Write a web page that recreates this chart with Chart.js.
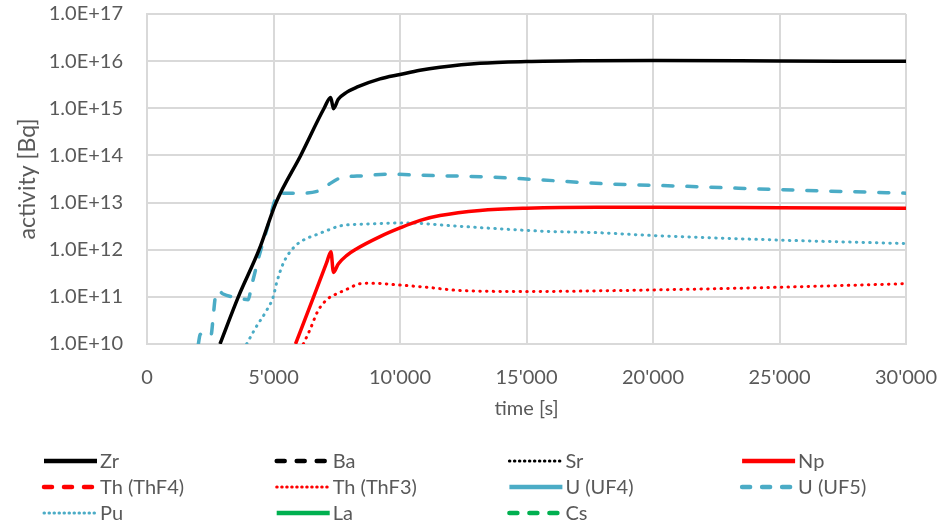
<!DOCTYPE html>
<html>
<head>
<meta charset="utf-8">
<script src="https://cdn.jsdelivr.net/npm/chart.js@4.4.1/dist/chart.umd.min.js"></script>
<style>
  html, body { margin: 0; padding: 0; background: #fff; }
  #wrap { width: 945px; height: 522px; position: relative; }
</style>
</head>
<body>
<div id="wrap"><canvas id="chart"></canvas></div>
<script>
// activity [Bq] vs time [s], one time/value pair of arrays per nuclide
const zrTime = [2885, 3610, 4430, 5100, 6075, 7000, 7260, 7370, 7560, 7900, 8290, 9210, 10000, 10790, 11580, 13160, 15000, 17500, 20000, 25000, 30000];
const zrActivity = [1e10, 1e11, 1e12, 1e13, 1e14, 1e15, 1.7e15, 9.8e14, 1.55e15, 2.2e15, 2.8e15, 4.2e15, 5.2e15, 6.4e15, 7.4e15, 9.0e15, 9.8e15, 1.02e16, 1.03e16, 1.01e16, 9.9e15];

const baTime = [];
const baActivity = [];
const srTime = [];
const srActivity = [];

const npTime = [5870, 6570, 7100, 7270, 7370, 7560, 7900, 8290, 9210, 10000, 10800, 11580, 13160, 15000, 17780, 20000, 25000, 30000];
const npActivity = [1e10, 9.5e10, 5.3e11, 9.1e11, 3.3e11, 5.0e11, 7.6e11, 1.05e12, 1.9e12, 2.9e12, 4.2e12, 5.3e12, 6.8e12, 7.6e12, 8.0e12, 8.0e12, 7.8e12, 7.6e12];

const thf4Time = [];
const thf4Activity = [];

const thf3Time = [6180, 6440, 6770, 7170, 7560, 7960, 8420, 8950, 9860, 11050, 12500, 15000, 20000, 25000, 30000];
const thf3Activity = [1e10, 2e10, 5.2e10, 9.3e10, 1.2e11, 1.5e11, 1.9e11, 1.95e11, 1.8e11, 1.6e11, 1.35e11, 1.3e11, 1.4e11, 1.6e11, 1.9e11];

const uf4Time = [];
const uf4Activity = [];

const uf5Time = [2030, 2100, 2360, 2530, 2620, 2700, 2820, 3010, 3600, 4000, 4120, 4450, 4800, 5050, 5180, 6050, 6840, 7170, 7630, 8550, 9600, 10790, 13430, 15260, 18170, 21000, 24750, 30000];
const uf5Activity = [1e10, 1.58e10, 1.82e10, 1.55e10, 3.98e10, 1e11, 1.35e11, 1.15e11, 9.5e10, 8.7e10, 1.6e11, 8e11, 3.5e12, 1.1e13, 1.58e13, 1.58e13, 1.82e13, 2.4e13, 3.3e13, 3.7e13, 4.0e13, 3.8e13, 3.5e13, 3.1e13, 2.5e13, 2.24e13, 1.9e13, 1.58e13];

const puTime = [3940, 4270, 4730, 4990, 5120, 5390, 5790, 6180, 6710, 7230, 7630, 8680, 10260, 12110, 15800, 17780, 20000, 25000, 30000];
const puActivity = [1e10, 2.1e10, 5.2e10, 1e11, 1.95e11, 5.2e11, 1.1e12, 1.6e12, 2.1e12, 2.7e12, 3.2e12, 3.5e12, 3.7e12, 3.2e12, 2.45e12, 2.3e12, 2.0e12, 1.6e12, 1.35e12];

const laTime = [];
const laActivity = [];
const csTime = [];
const csActivity = [];

const yTickValues = [1e10, 1e11, 1e12, 1e13, 1e14, 1e15, 1e16, 1e17];

const BLACK = '#000000';
const RED = '#ff0000';
const CYAN = '#4bacc6';
const GREEN = '#00b050';
const TEXT = '#595959';
const GRID = '#d9d9d9';
const FONT = 'Lato, "Open Sans", sans-serif';

const SOLID = [];
const DASH = [10, 14];
const DOT = [0.5, 6.2];

function points(t, v) {
  return t.map((x, i) => ({x: x, y: v[i]}));
}

function series(label, t, v, color, dash) {
  return {
    label: label,
    data: points(t, v),
    borderColor: color,
    backgroundColor: color,
    borderWidth: dash === DOT ? 3 : 3.5,
    borderDash: dash,
    borderCapStyle: dash === SOLID ? 'butt' : 'round',
    borderJoinStyle: 'round',
    pointRadius: 0,
    cubicInterpolationMode: 'monotone',
    fill: false
  };
}

const datasets = [
  series('Zr', zrTime, zrActivity, BLACK, SOLID),
  series('Ba', baTime, baActivity, BLACK, DASH),
  series('Sr', srTime, srActivity, BLACK, DOT),
  series('Np', npTime, npActivity, RED, SOLID),
  series('Th (ThF4)', thf4Time, thf4Activity, RED, DASH),
  series('Th (ThF3)', thf3Time, thf3Activity, RED, DOT),
  series('U (UF4)', uf4Time, uf4Activity, CYAN, SOLID),
  series('U (UF5)', uf5Time, uf5Activity, CYAN, DASH),
  series('Pu', puTime, puActivity, CYAN, DOT),
  series('La', laTime, laActivity, GREEN, SOLID),
  series('Cs', csTime, csActivity, GREEN, DASH)
];

// legend drawn as a 4-column grid under the axis title
const gridLegend = {
  id: 'gridLegend',
  afterDraw(chart) {
    const ctx = chart.ctx;
    ctx.save();
    chart.data.datasets.forEach((ds, i) => {
      const col = i % 4;
      const row = Math.floor(i / 4);
      const x0 = 42 + col * 232.7;
      const y = 461 + row * 26;
      ctx.beginPath();
      ctx.strokeStyle = ds.borderColor;
      ctx.lineWidth = ds.borderDash === DOT ? 3 : 4.5;
      ctx.lineCap = ds.borderDash === SOLID ? 'butt' : 'round';
      ctx.setLineDash(ds.borderDash === DOT ? [0.5, 4.5] : ds.borderDash === DASH ? [8, 12] : []);
      ctx.moveTo(x0 + 2, y);
      ctx.lineTo(x0 + 55, y);
      ctx.stroke();
      ctx.setLineDash([]);
      ctx.fillStyle = TEXT;
      ctx.font = '20px ' + FONT;
      ctx.textAlign = 'left';
      ctx.textBaseline = 'middle';
      ctx.fillText(ds.label, x0 + 58, y + 1);
    });
    ctx.restore();
  }
};

const ctx = document.getElementById('chart').getContext('2d');
const chart = new Chart(ctx, {
  type: 'line',
  data: {datasets: datasets},
  options: {
    responsive: true,
    maintainAspectRatio: false,
    animation: false,
    layout: {padding: {top: 14, right: 39, bottom: 101, left: 10}},
    plugins: {
      legend: {display: false},
      tooltip: {enabled: false}
    },
    scales: {
      x: {
        type: 'linear',
        min: 0,
        max: 30000,
        afterFit: scale => {
          scale.height = 77;
          scale.paddingLeft = 0;
          scale.paddingRight = 0;
        },
        ticks: {
          stepSize: 5000,
          padding: 22,
          color: TEXT,
          font: {family: FONT, size: 20},
          maxRotation: 0,
          callback: v => String(v).replace(/\B(?=(\d{3})+(?!\d))/g, "'")
        },
        grid: {color: GRID, lineWidth: 2, drawTicks: false},
        border: {color: GRID, width: 2},
        title: {display: true, text: 'time [s]', color: TEXT, font: {family: FONT, size: 20}, padding: {top: 0, bottom: 0}}
      },
      y: {
        type: 'logarithmic',
        min: 1e10,
        max: 1e17,
        afterBuildTicks: axis => { axis.ticks = yTickValues.map(v => ({value: v})); },
        afterFit: scale => {
          scale.width = 137;
          scale.paddingTop = 0;
          scale.paddingBottom = 0;
        },
        ticks: {
          padding: 24,
          color: TEXT,
          font: {family: FONT, size: 20},
          callback: v => '1.0E+' + Math.round(Math.log10(v))
        },
        grid: {color: GRID, lineWidth: 2, drawTicks: false},
        border: {color: GRID, width: 2},
        title: {display: true, text: 'activity [Bq]', color: TEXT, font: {family: FONT, size: 23}, padding: {top: 4, bottom: 0}}
      }
    }
  },
  plugins: [gridLegend]
});
</script>
</body>
</html>
